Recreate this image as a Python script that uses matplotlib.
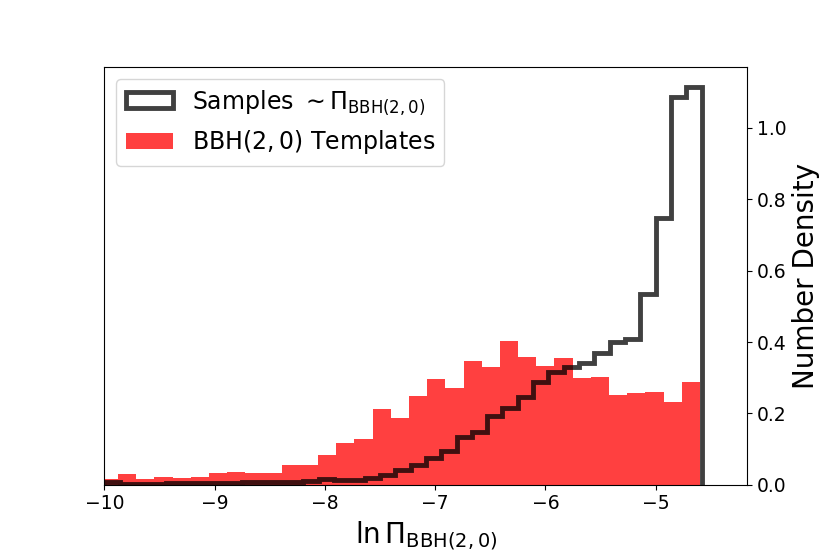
import numpy as np
import matplotlib
matplotlib.use("Agg")
import matplotlib.pyplot as plt

# ------------------------------------------------------------------
#  Histogram values (density units)
# ------------------------------------------------------------------

# Samples ~ Pi_BBH(2,0): 39 bins from -10.0 to -4.585
SAMPLE_LO, SAMPLE_HI, SAMPLE_NBINS = -10.0, -4.585, 39
sample_density = [
    0.008, 0.003, 0.003, 0.003, 0.004, 0.005, 0.006, 0.006, 0.006, 0.007,
    0.008, 0.009, 0.009, 0.010, 0.015, 0.014, 0.013, 0.018, 0.027, 0.041,
    0.055, 0.076, 0.094, 0.135, 0.149, 0.192, 0.214, 0.247, 0.289, 0.317,
    0.331, 0.340, 0.370, 0.401, 0.408, 0.536, 0.747, 1.087, 1.115,
]

# BBH(2,0) templates: 33 bins from -10.04 to -4.6
TEMPL_LO, TEMPL_HI, TEMPL_NBINS = -10.04, -4.6, 33
template_density = [
    0.015, 0.029, 0.015, 0.022, 0.018, 0.022, 0.032, 0.037, 0.032, 0.032,
    0.055, 0.055, 0.083, 0.116, 0.127, 0.213, 0.188, 0.249, 0.295, 0.272,
    0.348, 0.331, 0.404, 0.358, 0.333, 0.354, 0.300, 0.303, 0.251, 0.256,
    0.259, 0.231, 0.287,
]

sample_edges = np.linspace(SAMPLE_LO, SAMPLE_HI, SAMPLE_NBINS + 1)
templ_edges = np.linspace(TEMPL_LO, TEMPL_HI, TEMPL_NBINS + 1)

# ------------------------------------------------------------------
#  Plot
# ------------------------------------------------------------------

fig = plt.figure(figsize=(8.3, 5.54), dpi=100)
ax = fig.add_axes([0.1257, 0.125, 0.7747, 0.754])

_, _, h_templ = ax.hist(templ_edges[:-1], bins=templ_edges, weights=template_density,
                        color="red", alpha=0.75, label=r"BBH$(2,0)$ Templates")
_, _, h_samp = ax.hist(sample_edges[:-1], bins=sample_edges, weights=sample_density,
                       histtype="step", color="k", alpha=0.75, linewidth=3.5,
                       label=r"Samples $\sim\Pi_{\rm BBH(2,0)}$")

ax.set_xlim(-10, -4.17)
ax.set_yticks([0.0, 0.2, 0.4, 0.6, 0.8, 1.0])
ax.yaxis.tick_right()
ax.yaxis.set_label_position("right")
ax.tick_params(labelsize=13.5)

ax.set_xlabel(r"$\ln\Pi_{\rm BBH(2,0)}$", fontsize=20)
ax.set_ylabel("Number Density", fontsize=20)

ax.legend(handles=[h_samp[0], h_templ[0]], loc="upper left", fontsize=17)

fig.savefig("out.png", dpi=100)
